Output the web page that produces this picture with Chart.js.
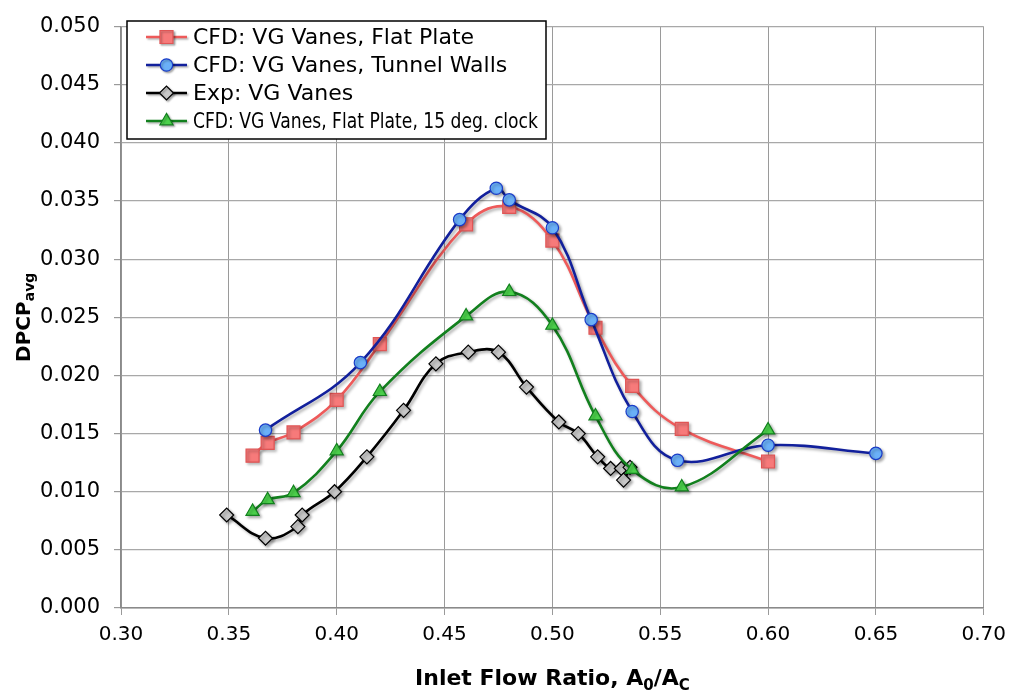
<!DOCTYPE html>
<html>
<head>
<meta charset="utf-8">
<script src="https://cdn.jsdelivr.net/npm/chart.js@4.4.1/dist/chart.umd.min.js"></script>
<style>
html,body{margin:0;padding:0;background:#fff;}
#wrap{width:1014px;height:694px;position:relative;}
</style>
</head>
<body>
<div id="wrap"><canvas id="c" width="1014" height="694"></canvas></div>
<script>
// ---- data ----
const seriesNames = ["CFD: VG Vanes, Flat Plate", "CFD: VG Vanes, Tunnel Walls", "Exp: VG Vanes", "CFD: VG Vanes, Flat Plate, 15 deg. clock"];

const flatX = [0.361, 0.368, 0.380, 0.400, 0.420, 0.460, 0.480, 0.500, 0.520, 0.537, 0.560, 0.600];
const flatY = [0.0131, 0.0142, 0.0151, 0.0179, 0.0227, 0.0330, 0.0345, 0.0316, 0.0241, 0.0191, 0.0154, 0.0126];

const tunnelX = [0.367, 0.411, 0.457, 0.474, 0.480, 0.500, 0.518, 0.537, 0.558, 0.600, 0.650];
const tunnelY = [0.0153, 0.0211, 0.0334, 0.0361, 0.0351, 0.0327, 0.0248, 0.0169, 0.0127, 0.0140, 0.0133];

const expX = [0.349, 0.367, 0.382, 0.384, 0.399, 0.414, 0.431, 0.446, 0.461, 0.475, 0.488, 0.503, 0.512, 0.521, 0.527, 0.532, 0.536, 0.533];
const expY = [0.0080, 0.0060, 0.0070, 0.0080, 0.0100, 0.0130, 0.0170, 0.0210, 0.0220, 0.0220, 0.0190, 0.0160, 0.0150, 0.0130, 0.0120, 0.0120, 0.0121, 0.0110];

const clockX = [0.361, 0.368, 0.380, 0.400, 0.420, 0.460, 0.480, 0.500, 0.520, 0.537, 0.560, 0.600];
const clockY = [0.0083, 0.0093, 0.0099, 0.0135, 0.0186, 0.0251, 0.0272, 0.0243, 0.0165, 0.0119, 0.0104, 0.0153];

const xTicks = [0.30, 0.35, 0.40, 0.45, 0.50, 0.55, 0.60, 0.65, 0.70];
const yTicks = [0.000, 0.005, 0.010, 0.015, 0.020, 0.025, 0.030, 0.035, 0.040, 0.045, 0.050];

const xTitleParts = [["Inlet Flow Ratio, A", false], ["0", true], ["/A", false], ["C", true]];
const yTitleParts = [["DPCP", false], ["avg", true]];

// ---- styles ----
const styles = [
  {line: '#EE5A5A', fill: '#F77A7A', border: '#E05555', point: 'rect', r: 9.2},
  {line: '#12209C', fill: '#6AB0F8', border: '#1A3CC8', point: 'circle', r: 6.2},
  {line: '#000000', fill: '#C8C8C8', border: '#000000', point: 'rectRot', r: 7.0},
  {line: '#12801E', fill: '#4CD24C', border: '#12801E', point: 'triangle', r: 7.6}
];
const legendMaxW = [null, null, null, 345];

function pts(xs, ys){ return xs.map((x,i)=>({x:x, y:ys[i]})); }
const allData = [pts(flatX, flatY), pts(tunnelX, tunnelY), pts(expX, expY), pts(clockX, clockY)];

const datasets = allData.map((d, i) => ({
  label: seriesNames[i],
  data: d,
  borderColor: styles[i].line,
  backgroundColor: styles[i].fill,
  pointBackgroundColor: styles[i].fill,
  pointBorderColor: styles[i].border,
  pointBorderWidth: 1.2,
  pointStyle: styles[i].point,
  pointRadius: styles[i].r,
  pointHoverRadius: styles[i].r,
  borderWidth: 2.6,
  tension: 0.4,
  fill: false,
  order: 4 - i
}));

const FONT = "'DejaVu Sans', Verdana, sans-serif";

const shadowPlugin = {
  id: 'shadowPlugin',
  beforeDatasetsDraw(chart){
    const c = chart.ctx; c.save();
    c.shadowColor = 'rgba(0,0,0,0.32)'; c.shadowBlur = 3; c.shadowOffsetX = 2; c.shadowOffsetY = 2;
  },
  afterDatasetsDraw(chart){ chart.ctx.restore(); }
};

function drawParts(ctx, parts, x, y, mainSize, subSize, align){
  let total = 0;
  const widths = parts.map(p => { ctx.font = 'bold ' + (p[1] ? subSize : mainSize) + 'px ' + FONT; const w = ctx.measureText(p[0]).width; total += w; return w; });
  let cx = align === 'center' ? x - total/2 : x;
  parts.forEach((p, i) => {
    ctx.font = 'bold ' + (p[1] ? subSize : mainSize) + 'px ' + FONT;
    ctx.fillText(p[0], cx, p[1] ? y + mainSize*0.22 : y);
    cx += widths[i];
  });
}

const titlePlugin = {
  id: 'titlePlugin',
  afterDraw(chart){
    const ctx = chart.ctx; const a = chart.chartArea;
    ctx.save();
    ctx.fillStyle = '#000';
    ctx.textBaseline = 'alphabetic';
    ctx.textAlign = 'left';
    drawParts(ctx, xTitleParts, (a.left + a.right)/2, 685, 22, 15, 'center');
    ctx.translate(30, (a.top + a.bottom)/2);
    ctx.rotate(-Math.PI/2);
    drawParts(ctx, yTitleParts, 0, 0, 20, 14, 'center');
    ctx.restore();
  }
};

const legendPlugin = {
  id: 'legendPlugin',
  afterDraw(chart){
    const ctx = chart.ctx;
    const bx = 127, by = 21, bw = 419, bh = 118;
    ctx.save();
    ctx.fillStyle = '#fff';
    ctx.fillRect(bx, by, bw, bh);
    ctx.strokeStyle = '#000'; ctx.lineWidth = 1.5;
    ctx.strokeRect(bx, by, bw, bh);
    const rowY = [37, 65, 93, 121];
    seriesNames.forEach((name, i) => {
      const s = styles[i]; const y = rowY[i];
      ctx.save();
      ctx.shadowColor = 'rgba(0,0,0,0.3)'; ctx.shadowBlur = 2; ctx.shadowOffsetX = 1.5; ctx.shadowOffsetY = 1.5;
      ctx.strokeStyle = s.line; ctx.lineWidth = 2.6;
      ctx.beginPath(); ctx.moveTo(146, y); ctx.lineTo(187, y); ctx.stroke();
      ctx.fillStyle = s.fill; ctx.strokeStyle = s.border; ctx.lineWidth = 1.2;
      Chart.helpers.drawPoint(ctx, {pointStyle: s.point, radius: s.r, borderWidth: 1.2, rotation: 0}, 166.5, y);
      ctx.restore();
      ctx.fillStyle = '#000';
      ctx.font = '22px ' + FONT;
      ctx.textBaseline = 'middle';
      ctx.textAlign = 'left';
      if (legendMaxW[i]) ctx.fillText(name, 193, y + 1, legendMaxW[i]);
      else ctx.fillText(name, 193, y + 1);
    });
    ctx.restore();
  }
};

new Chart(document.getElementById('c'), {
  type: 'line',
  data: { datasets: datasets },
  options: {
    responsive: false,
    animation: false,
    devicePixelRatio: 1,
    layout: { padding: { left: 0, top: 19, right: 28, bottom: 0 } },
    plugins: { legend: { display: false }, tooltip: { enabled: false } },
    scales: {
      x: {
        type: 'linear', min: 0.30, max: 0.70,
        afterBuildTicks(ax){ ax.ticks = xTicks.map(v => ({value: v})); },
        afterFit(ax){ ax.height = 86; },
        ticks: { font: { family: FONT, size: 20 }, color: '#000', padding: 8, maxRotation: 0,
                 callback: v => Number(v).toFixed(2) },
        grid: { color: '#9a9a9a', lineWidth: 1, tickLength: 7, tickColor: '#9a9a9a' },
        border: { color: '#8a8a8a', width: 1.5 }
      },
      y: {
        type: 'linear', min: 0, max: 0.05,
        afterBuildTicks(ax){ ax.ticks = yTicks.map(v => ({value: v})); },
        afterFit(ax){ ax.width = 121; },
        ticks: { font: { family: FONT, size: 21 }, color: '#000', padding: 14,
                 callback: v => Number(v).toFixed(3) },
        grid: { color: '#a8a8a8', lineWidth: 1.2, tickLength: 7, tickColor: '#9a9a9a' },
        border: { color: '#8a8a8a', width: 1.5 }
      }
    }
  },
  plugins: [shadowPlugin, legendPlugin, titlePlugin]
});
</script>
</body>
</html>
